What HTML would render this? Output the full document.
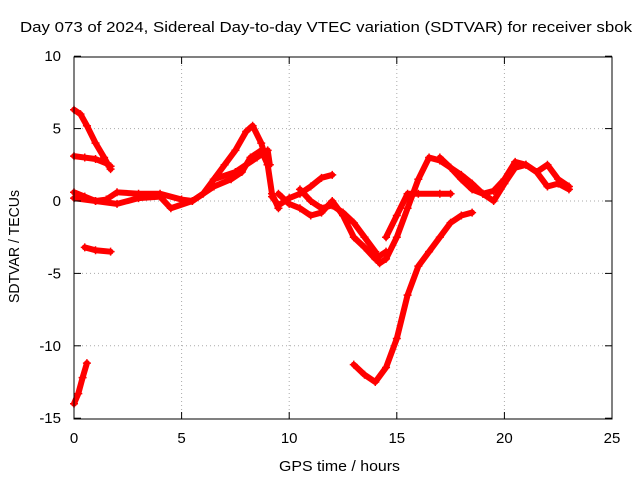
<!DOCTYPE html>
<html><head><meta charset="utf-8"><style>
body{margin:0;background:#fff;}
svg{font-family:"Liberation Sans",sans-serif;}
</style></head><body>
<svg id="chart" width="640" height="480" viewBox="0 0 640 480">
<text x="20" y="32" font-size="15" textLength="612" lengthAdjust="spacingAndGlyphs">Day 073 of 2024, Sidereal Day-to-day VTEC variation (SDTVAR) for receiver sbok</text>
<g id="grid"></g>
<g id="series"></g>
<rect x="74" y="57" width="538" height="362" fill="none" stroke="#000"/>
<g id="axes"></g>
<text x="279" y="471" font-size="15" textLength="121" lengthAdjust="spacingAndGlyphs">GPS time / hours</text>
<text transform="translate(19,303) rotate(-90)" font-size="15" textLength="113" lengthAdjust="spacingAndGlyphs">SDTVAR / TECUs</text>
</svg>
<script>
const xTicks=[0,5,10,15,20,25];
const yTicks=[10,5,0,-5,-10,-15];
const trackA=[[0,6.3],[0.3,6.0],[0.6,5.2],[1.0,4.0],[1.4,3.0],[1.7,2.2]];
const trackB=[[0,3.1],[0.5,3.0],[1.0,2.9],[1.5,2.6],[1.7,2.4]];
const trackC=[[0,-14],[0.2,-13.3],[0.4,-12.2],[0.6,-11.2]];
const trackD=[[0.5,-3.2],[1.0,-3.4],[1.7,-3.5]];
const trackE=[[0,0.6],[0.5,0.3],[1,0.0],[1.5,0.1],[2,0.6],[3,0.5],[4,0.5],[5,0.1],[5.5,0.0],[6,0.5],[6.5,1.5],[7,2.5],[7.5,3.5],[8,4.8],[8.3,5.2],[8.7,4.0],[9,2.5],[9.2,0.5],[9.5,-0.5]];
const trackF=[[0,0.2],[1,0.0],[2,-0.2],[3,0.2],[4,0.3],[4.5,-0.5],[5.5,0.0],[6.5,1.0],[7.3,1.5],[7.8,2.0],[8.2,3.0],[8.7,3.5],[9,2.5]];
const trackG=[[6.5,1.5],[7.5,2.0],[8,2.5],[8.5,3.0],[9,3.5],[9.1,2.5]];
const trackH=[[9.2,0.3],[9.5,-0.3],[10,0.2],[10.5,0.5],[11,1.0],[11.5,1.6],[12,1.8]];
const trackI=[[9.5,0.5],[10,-0.2],[10.5,-0.5],[11,-1.0],[11.5,-0.8],[12,0.0],[12.5,-1.0],[13,-2.5],[13.5,-3.2],[14,-4.0],[14.5,-3.5]];
const trackJ=[[10.5,0.8],[11,0.0],[11.5,-0.5],[12,-0.3],[12.5,-0.8],[13,-1.5],[13.5,-2.5],[14,-3.5],[14.2,-4.3],[14.5,-4.0],[15,-2.5],[15.5,-0.5],[16,1.5],[16.5,3.0],[17,2.8],[17.5,2.3],[18,1.8],[18.5,1.2],[19,0.5],[19.5,0.7],[20,1.5],[20.5,2.7],[21,2.5],[21.5,2.0],[22,1.0],[22.5,1.2],[23,0.8]];
const trackK=[[14.5,-2.5],[15,-1.0],[15.5,0.5],[16,0.5],[17,0.5],[17.5,0.5]];
const trackL=[[13,-11.3],[13.5,-12],[14,-12.5],[14.5,-11.5],[15,-9.5],[15.5,-6.5],[16,-4.5],[16.5,-3.5],[17,-2.5],[17.5,-1.5],[18,-1.0],[18.5,-0.8]];
const trackM=[[17,3.0],[17.5,2.3],[18,1.5],[18.5,0.8],[19,0.5],[19.5,0.0],[20,1.2],[20.5,2.3],[21,2.5],[21.5,2.0],[22,2.5],[22.5,1.5],[23,1.0]];
const tracks=[trackA,trackB,trackC,trackD,trackE,trackF,trackG,trackH,trackI,trackJ,trackK,trackL,trackM];
const NS="http://www.w3.org/2000/svg";
const X=h=>74+h*(538/25);
const Y=v=>201-v*(362/25);
function mk(t,a,p){const e=document.createElementNS(NS,t);for(const k in a)e.setAttribute(k,a[k]);p.appendChild(e);return e;}
const grid=document.getElementById('grid'),axes=document.getElementById('axes'),ser=document.getElementById('series');
xTicks.forEach(t=>{
 if(t>0&&t<25){const l=mk('line',{x1:X(t),x2:X(t),y1:57,y2:419,stroke:'#aaa','stroke-dasharray':'1,3'},grid);
 }
 const k=mk('line',{x1:X(t),x2:X(t),y1:419,y2:412,stroke:'#000'},axes);
 
 const k2=mk('line',{x1:X(t),x2:X(t),y1:57,y2:64,stroke:'#000'},axes);
 
 const tx=mk('text',{x:X(t),y:443,'font-size':15,'text-anchor':'middle'},axes);tx.textContent=t;
 
});
yTicks.forEach(t=>{
 if(t<10&&t>-15){const l=mk('line',{x1:74,x2:612,y1:Y(t),y2:Y(t),stroke:'#aaa','stroke-dasharray':'1,3'},grid);
 }
 const k=mk('line',{x1:74,x2:81,y1:Y(t),y2:Y(t),stroke:'#000'},axes);
 
 const k2=mk('line',{x1:605,x2:612,y1:Y(t),y2:Y(t),stroke:'#000'},axes);
 
 const tx=mk('text',{x:61,y:Y(t)+5,'font-size':15,'text-anchor':'end'},axes);tx.textContent=t;
 
});
tracks.forEach(tr=>{
 const pl=mk('polyline',{points:tr.map(p=>X(p[0])+','+Y(p[1])).join(' '),fill:'none',stroke:'#f00','stroke-width':6,'stroke-linejoin':'round','stroke-linecap':'round'},ser);
 
 tr.forEach(p=>{const x=X(p[0]),y=Y(p[1]);
  const m=mk('path',{d:`M${x-4},${y}H${x+4}M${x},${y-4}V${y+4}`,stroke:'#f00','stroke-width':1.5},ser);
  });
});
</script>
</body></html>
